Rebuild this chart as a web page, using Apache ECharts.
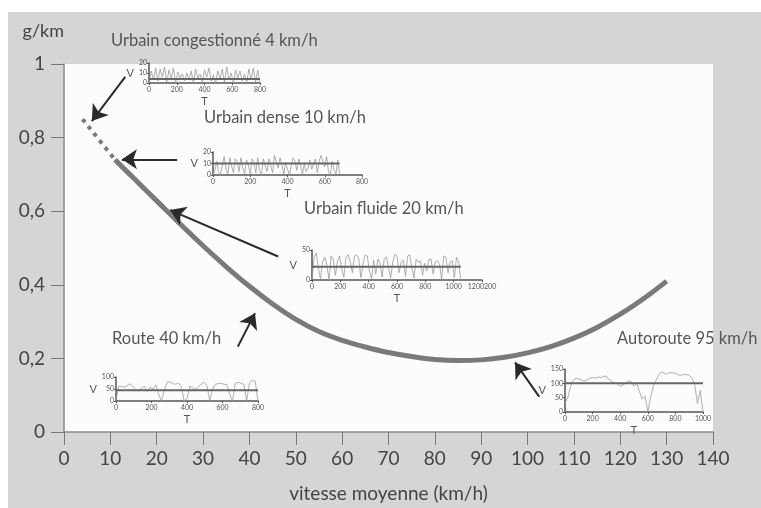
<!DOCTYPE html>
<html>
<head>
<meta charset="utf-8">
<script src="https://cdn.jsdelivr.net/npm/echarts@6/dist/echarts.min.js"></script>
<style>
body { margin: 0; background: #fff; }
#chart {
    width: 761px; height: 508px;
    background: linear-gradient(#d5d5d5, #d5d5d5) 8px 12px / 753px 496px no-repeat, #fff;
}
</style>
</head>
<body>
<div id="chart"></div>
<script>
// main curve: emissions (g/km) vs average speed (km/h)
const curveSpeed = [11, 15, 20, 25, 30, 35, 40, 45, 50, 55, 60, 65, 70, 75, 80, 85, 90, 95, 100, 105, 110, 115, 120, 125, 130];
const curveGkm = [0.74, 0.69, 0.628, 0.566, 0.506, 0.449, 0.396, 0.348, 0.306, 0.273, 0.249, 0.231, 0.216, 0.205, 0.197, 0.194, 0.196, 0.203, 0.215, 0.232, 0.255, 0.284, 0.32, 0.362, 0.41];
const dotSpeed = [4, 11];
const dotGkm = [0.85, 0.74];

// arrows from the small speed traces to the curve
const arrowFrom = [[13.2, 0.965], [24.4, 0.741], [46.2, 0.477], [37.5, 0.232], [102.5, 0.096]];
const arrowTo = [[6.0, 0.845], [12.5, 0.741], [22.9, 0.603], [41.2, 0.323], [97.3, 0.189]];

// driving cycles, V (km/h) sampled every step seconds
const cycleNames = ['Urbain congestionné 4 km/h', 'Urbain dense 10 km/h', 'Urbain fluide 20 km/h', 'Route 40 km/h', 'Autoroute 95 km/h'];
const cycleStep = [16, 10, 15, 16, 20];
const cycleMean = [4, 10, 22, 45, 100];
const cycleVmax = [20, 20, 50, 100, 150];
const cycleVint = [10, 10, 50, 50, 50];
const cycleTmax = [800, 800, 1200, 800, 1000];
const congest = [0, 12, 3, 15, 2, 14, 6, 16, 1, 13, 4, 15, 0, 11, 5, 9, 2, 10, 3, 12, 0, 14, 5, 9, 1, 13, 6, 15, 2, 8, 0, 12, 4, 14, 1, 16, 3, 10, 0, 13, 5, 12, 2, 9, 0, 14, 3, 15, 1, 13, 0];
const dense = [0, 4, 12, 2, 0, 9, 16, 5, 1, 15, 8, 2, 14, 12, 3, 15, 6, 1, 13, 9, 0, 14, 11, 2, 15, 4, 0, 14, 13, 3, 14, 8, 2, 17, 18, 6, 15, 9, 1, 11, 5, 0, 8, 15, 12, 4, 14, 9, 0, 10, 3, 6, 13, 5, 10, 14, 2, 12, 17, 18, 7, 16, 3, 0, 12, 4, 1, 13, 0];
const fluide = [0, 38, 45, 20, 2, 30, 38, 25, 0, 40, 35, 8, 32, 40, 18, 5, 38, 42, 30, 12, 40, 42, 36, 4, 26, 42, 40, 15, 2, 33, 10, 35, 28, 5, 36, 38, 22, 3, 30, 43, 40, 12, 30, 33, 6, 40, 42, 20, 3, 35, 30, 32, 8, 28, 15, 34, 35, 10, 30, 32, 26, 2, 40, 38, 12, 30, 32, 4, 38, 30, 0];
const route = [0, 62, 60, 58, 65, 72, 60, 48, 42, 55, 62, 40, 58, 50, 66, 28, 0, 45, 78, 80, 72, 70, 74, 60, 0, 10, 62, 55, 48, 58, 70, 78, 64, 0, 50, 70, 72, 74, 70, 68, 30, 0, 72, 78, 74, 70, 0, 76, 85, 82, 0];
const autoroute = [30, 50, 90, 110, 118, 115, 112, 108, 112, 118, 120, 118, 122, 120, 124, 125, 112, 105, 102, 98, 90, 95, 100, 108, 105, 90, 100, 70, 45, 55, 0, 50, 90, 110, 130, 140, 135, 132, 138, 136, 135, 130, 128, 132, 130, 128, 118, 95, 30, 75, 0];
const cycles = [congest, dense, fluide, route, autoroute];

// where each little chart sits, and its title
const insetBox = [[149, 63, 111, 20], [213, 152, 149, 23], [312, 250, 170, 30], [116, 377, 142, 24], [565, 369, 138, 43]];
const titlePos = [[111, 41], [204, 118], [304, 209], [112, 339], [617, 339]];

const font = 'Lato, "Open Sans", sans-serif';
const chart = echarts.init(document.getElementById('chart'));

const grids = [{ left: 64, top: 64, width: 649, height: 375, show: true, backgroundColor: '#fcfcfc', borderWidth: 0 }];
const xAxes = [{
    type: 'value', gridIndex: 0, min: 0, max: 140, interval: 10,
    name: 'vitesse moyenne (km/h)', nameLocation: 'middle', nameGap: 52,
    nameTextStyle: { fontFamily: font, fontSize: 19, color: '#444' },
    axisLine: { lineStyle: { color: '#8a8a8a', width: 1.5 } },
    axisTick: { length: 13, lineStyle: { color: '#777' } },
    axisLabel: { fontFamily: font, fontSize: 19, color: '#444', margin: 17 },
    splitLine: { show: false }
}];
const yAxes = [{
    type: 'value', gridIndex: 0, min: 0, max: 1, interval: 0.2,
    name: 'g/km', nameLocation: 'end', nameGap: 24,
    nameTextStyle: { fontFamily: font, fontSize: 18, color: '#444', align: 'right' },
    axisLine: { show: true, lineStyle: { color: '#8a8a8a', width: 1.5 } },
    axisTick: { show: true, length: 13, lineStyle: { color: '#777' } },
    axisLabel: {
        fontFamily: font, fontSize: 19, color: '#444', margin: 19, padding: [0, 0, 10, 0],
        formatter: v => String(+v.toFixed(1)).replace('.', ',')
    },
    splitLine: { show: false }
}];

const series = [
    {
        type: 'line', xAxisIndex: 0, yAxisIndex: 0, smooth: 0.4, symbol: 'none',
        data: curveSpeed.map((s, i) => [s, curveGkm[i]]),
        lineStyle: { color: '#7a7a7a', width: 5, cap: 'butt' }, z: 3
    },
    {
        type: 'line', xAxisIndex: 0, yAxisIndex: 0, symbol: 'none',
        data: dotSpeed.map((s, i) => [s, dotGkm[i]]),
        lineStyle: { color: '#7a7a7a', width: 4, type: [4, 5], cap: 'butt' }, z: 3
    },
    {
        type: 'lines', coordinateSystem: 'cartesian2d', xAxisIndex: 0, yAxisIndex: 0,
        symbol: ['none', 'arrow'], symbolSize: 15,
        lineStyle: { color: '#2a2a2a', width: 2, opacity: 1, curveness: 0 },
        data: arrowFrom.map((f, i) => ({ coords: [f, arrowTo[i]] })), z: 4
    }
];

const insetText = { fontFamily: font, fontSize: 7, color: '#555' };
cycles.forEach((vals, k) => {
    const g = k + 1;
    const b = insetBox[k];
    grids.push({ left: b[0], top: b[1], width: b[2], height: b[3] });
    xAxes.push({
        type: 'value', gridIndex: g, min: 0, max: cycleTmax[k], interval: 200,
        name: 'T', nameLocation: 'middle', nameGap: 13,
        nameTextStyle: { fontFamily: font, fontSize: 11, color: '#555' },
        axisLine: { lineStyle: { color: '#555', width: 1.5 } },
        axisTick: { length: 2, lineStyle: { color: '#555' } },
        axisLabel: Object.assign({ margin: 3, formatter: v => v === 1200 ? '1200200' : String(v) }, insetText),
        splitLine: { show: false }
    });
    yAxes.push({
        type: 'value', gridIndex: g, min: 0, max: cycleVmax[k], interval: cycleVint[k],
        name: 'V', nameLocation: 'middle', nameGap: 14, nameRotate: 0,
        nameTextStyle: { fontFamily: font, fontSize: 11, color: '#555' },
        axisLine: { show: true, lineStyle: { color: '#555', width: 1.5 } },
        axisTick: { show: true, length: 2, lineStyle: { color: '#555' } },
        axisLabel: Object.assign({ margin: 2 }, insetText),
        splitLine: { show: false }
    });
    const tEnd = (vals.length - 1) * cycleStep[k];
    series.push({
        type: 'line', xAxisIndex: g, yAxisIndex: g, symbol: 'none', silent: true,
        data: vals.map((v, i) => [i * cycleStep[k], v]),
        lineStyle: { color: '#9a9a9a', width: 0.8 }
    });
    series.push({
        type: 'line', xAxisIndex: g, yAxisIndex: g, symbol: 'none', silent: true,
        data: [[0, cycleMean[k]], [tEnd, cycleMean[k]]],
        lineStyle: { color: '#666', width: 2 }
    });
});

const graphic = cycleNames.map((t, k) => ({
    type: 'text', x: titlePos[k][0], y: titlePos[k][1],
    style: { text: t, font: '16.5px ' + font, fill: '#555', verticalAlign: 'middle' }
}));

chart.setOption({
    animation: false,
    grid: grids,
    xAxis: xAxes,
    yAxis: yAxes,
    series: series,
    graphic: graphic
});
</script>
</body>
</html>
